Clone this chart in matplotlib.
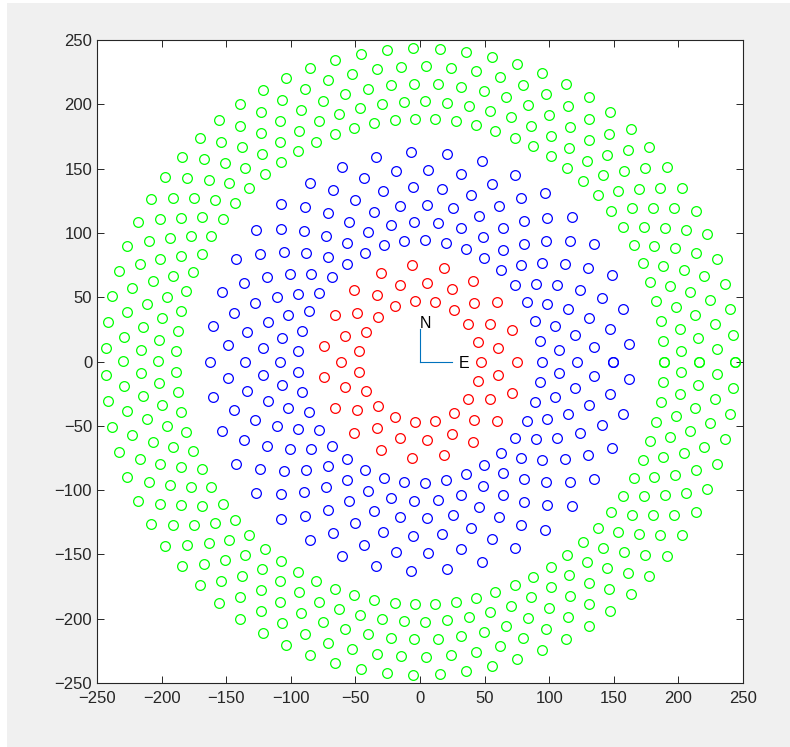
import numpy as np
import matplotlib
matplotlib.use("Agg")
import matplotlib.pyplot as plt
from matplotlib.patches import Rectangle

# Ring layout (radii in m, heliostats per ring)
red_radii   = [47.5, 61.5, 75.2]
blue_radii  = [94.6, 108.2, 121.8, 135.5, 149.1, 162.7]
green_radii = [188.8, 202.5, 216.1, 229.8, 243.5]
red_count, blue_count, green_count = 19, 37, 75
# rows whose 0-degree heliostat is drawn twice (appears bold)
blue_double  = [149.1]
green_double = [188.8, 216.1, 243.5]

ticks = [-250, -200, -150, -100, -50, 0, 50, 100, 150, 200, 250]


def ring_points(radii, count, doubles):
    xs, ys = [], []
    step = 2 * np.pi / count
    for i, r in enumerate(radii):
        off = 0.5 * step if i % 2 else 0.0
        ang = off + step * np.arange(count)
        if r in doubles:
            ang = np.append(ang, 2 * np.pi)
        xs.append(r * np.cos(ang)); ys.append(r * np.sin(ang))
    return np.concatenate(xs), np.concatenate(ys)


plt.rcParams['font.family'] = ['Liberation Sans', 'DejaVu Sans']
fig = plt.figure(figsize=(7.9, 7.47), dpi=100, facecolor='white')
fig.patches.append(Rectangle((7/790, 0), 1, 1 - 3/747, transform=fig.transFigure,
                             facecolor='#f0f0f0', edgecolor='none', zorder=-10))
ax = fig.add_axes([97/790, 64/747, 646/790, 643/747])

mk = dict(linestyle='none', marker='o', markerfacecolor='none', markersize=7, markeredgewidth=0.9)
for radii, n, dbl, col in [(red_radii, red_count, [], '#ff0000'),
                           (blue_radii, blue_count, blue_double, '#0000ff'),
                           (green_radii, green_count, green_double, '#00ff00')]:
    x, y = ring_points(radii, n, dbl)
    ax.plot(x, y, markeredgecolor=col, **mk)

# compass
ax.plot([0, 0], [0, 25], color='#0072bd', lw=0.8)
ax.plot([0, 25], [0, 0], color='#0072bd', lw=0.8)
ax.text(0, 24, 'N', fontsize=11.5, ha='left', va='bottom')
ax.text(30, -1.5, 'E', fontsize=11.5, ha='left', va='center')

ax.set_xlim(-250, 250); ax.set_ylim(-250, 250)
ax.set_xticks(ticks); ax.set_yticks(ticks)
ax.tick_params(direction='in', length=5, width=0.7, color='#262626', labelcolor='#262626',
               labelsize=12, top=True, right=True)
ax.tick_params(axis='x', pad=6)
for s in ax.spines.values():
    s.set_color('#262626'); s.set_linewidth(0.8)

fig.savefig('out.png', dpi=100, facecolor=fig.get_facecolor())
